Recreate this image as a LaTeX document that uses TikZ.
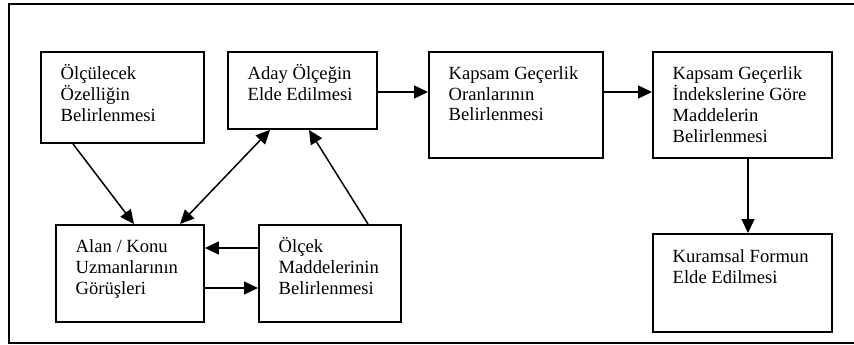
\documentclass[tikz,border=0pt]{standalone}
\usepackage{fontspec}
\setmainfont{Liberation Serif}
\usetikzlibrary{arrows.meta}
\begin{document}
\begin{tikzpicture}[x=1pt,y=-1pt,
  box/.style={draw, line width=1.9pt, anchor=north west, inner sep=0pt},
  txt/.style={anchor=base west, inner sep=0pt, font=\fontsize{18.6}{21}\selectfont},
  link/.style={line width=1.5pt, -{Triangle[length=14pt,width=13pt]}},
  biglink/.style={line width=1.5pt, {Triangle[length=14pt,width=13pt]}-{Triangle[length=14pt,width=13pt]}}]
\useasboundingbox (0,0) rectangle (854,345);
\clip (0,0) rectangle (854,345);
% outer frame, running past the right edge
\draw[line width=1.9pt] (880,4) -- (9,4) -- (9,343) -- (880,343);

% process boxes
\node[box, minimum width=163pt, minimum height=91pt]  (A) at (40,51)  {};
\node[box, minimum width=149pt, minimum height=77pt]  (B) at (227,51) {};
\node[box, minimum width=174pt, minimum height=106pt] (C) at (428,51) {};
\node[box, minimum width=179pt, minimum height=106pt] (D) at (652,51) {};
\node[box, minimum width=179pt, minimum height=98pt]  (E) at (652,233) {};
\node[box, minimum width=148pt, minimum height=97pt]  (F) at (55,224) {};
\node[box, minimum width=142pt, minimum height=97pt]  (G) at (258,224) {};

% box texts
\node[txt] (At) at ([shift={(20.5pt,-28pt)}]A.north west)
  {\begin{tabular}[t]{@{}l@{}}Ölçülecek\\Özelliğin\\Belirlenmesi\end{tabular}};
\node[txt] (Bt) at ([shift={(20.5pt,-28pt)}]B.north west)
  {\begin{tabular}[t]{@{}l@{}}Aday Ölçeğin\\Elde Edilmesi\end{tabular}};
\node[txt] (Ct) at ([shift={(20.5pt,-28pt)}]C.north west)
  {\begin{tabular}[t]{@{}l@{}}Kapsam Geçerlik\\Oranlarının\\Belirlenmesi\end{tabular}};
\node[txt] (Dt) at ([shift={(20.5pt,-28pt)}]D.north west)
  {\begin{tabular}[t]{@{}l@{}}Kapsam Geçerlik\\İndekslerine Göre\\Maddelerin\\Belirlenmesi\end{tabular}};
\node[txt] (Et) at ([shift={(20.5pt,-29pt)}]E.north west)
  {\begin{tabular}[t]{@{}l@{}}Kuramsal Formun\\Elde Edilmesi\end{tabular}};
\node[txt] (Ft) at ([shift={(20.5pt,-28pt)}]F.north west)
  {\begin{tabular}[t]{@{}l@{}}Alan / Konu\\Uzmanlarının\\Görüşleri\end{tabular}};
\node[txt] (Gt) at ([shift={(20.5pt,-28pt)}]G.north west)
  {\begin{tabular}[t]{@{}l@{}}Ölçek\\Maddelerinin\\Belirlenmesi\end{tabular}};

% connectors
\draw[link] ([xshift=33pt]A.south west) -- ([xshift=79pt]F.north west);
\draw[biglink] ([xshift=43pt]B.south west) -- ([xshift=125pt]F.north west);
\draw[link] ([xshift=110pt]G.north west) -- ([xshift=82pt]B.south west);
\draw[link] ([yshift=-24pt]G.north west) -- ([yshift=-24pt]F.north east);
\draw[link] ([yshift=-64pt]F.north east) -- ([yshift=-64pt]G.north west);
\draw[link] ([yshift=-41pt]B.north east) -- ([yshift=-41pt]C.north west);
\draw[link] ([yshift=-41pt]C.north east) -- ([yshift=-41pt]D.north west);
\draw[link] ([xshift=96pt]D.south west) -- ([xshift=96pt]E.north west);
\end{tikzpicture}
\end{document}
